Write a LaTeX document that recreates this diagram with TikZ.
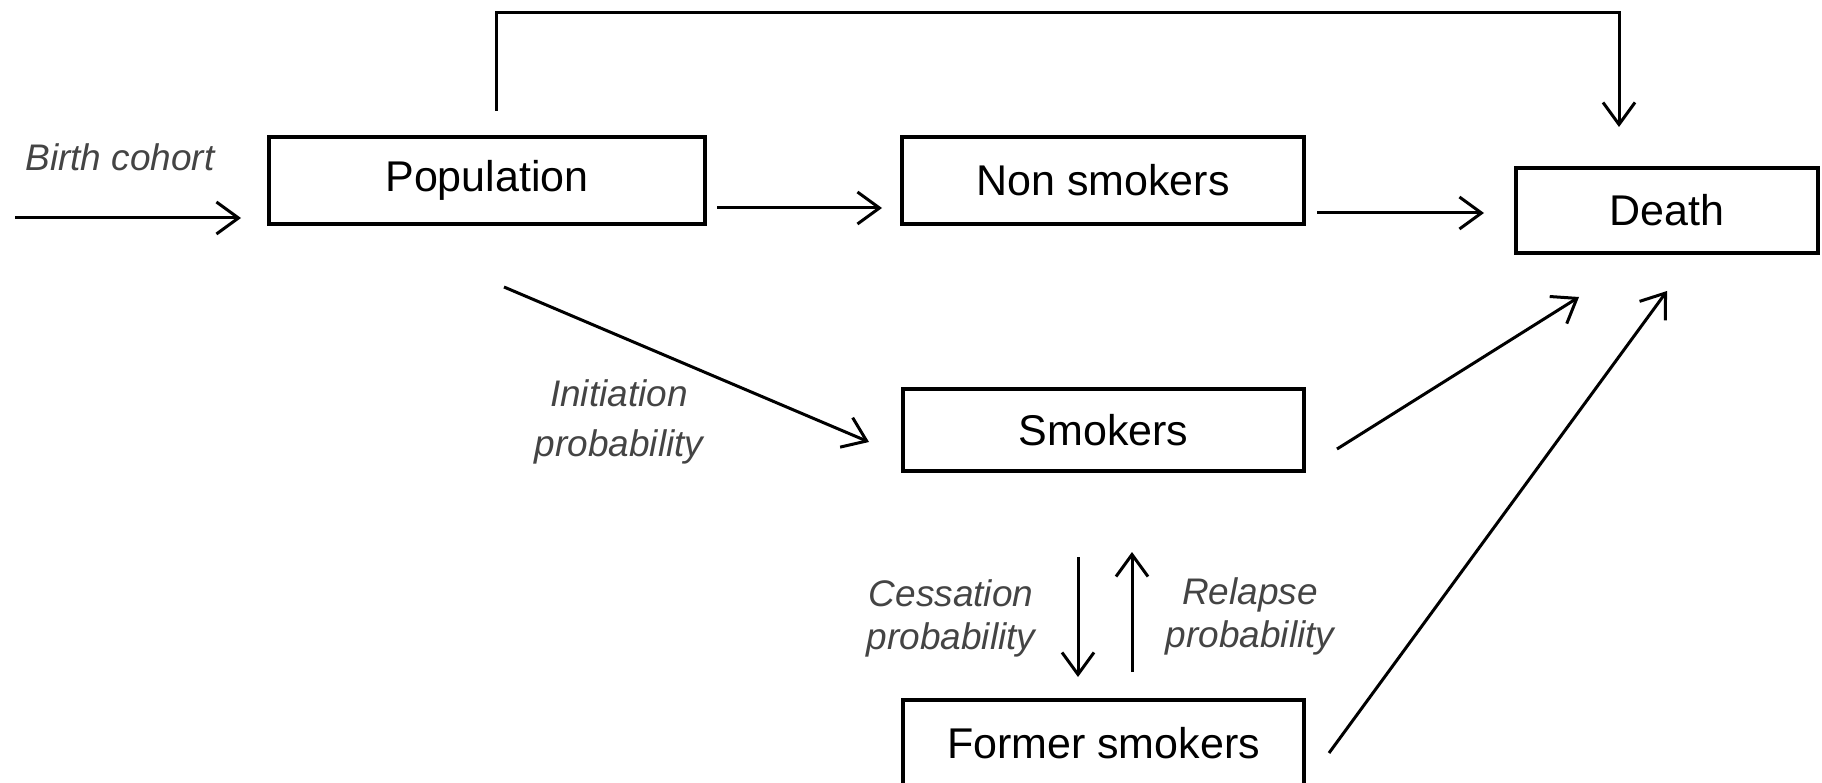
\documentclass[tikz,border=0pt]{standalone}
\usepackage{fontspec}
\setmainfont{Liberation Sans}
\usetikzlibrary{arrows.meta}
\definecolor{lbl}{HTML}{444444}
\tikzset{
  box/.style={draw=black, line width=4pt, inner sep=0pt, outer sep=0pt, font=\fontsize{43}{50}\selectfont, text=black},
  arr/.style={line width=3pt, -{Straight Barb[length=22pt,width=32pt,line width=3pt]}},
  lab/.style={font=\fontsize{37}{45}\selectfont\itshape, text=lbl, align=center, inner sep=0pt},
}
\begin{document}
\begin{tikzpicture}[x=1pt,y=-1pt]
\useasboundingbox (0,0) rectangle (1822,783);
\node[box, minimum width=436pt, minimum height=87pt] (pop) at (487,180.5) {Population};
\node[box, minimum width=402pt, minimum height=87pt] (non) at (1103,180.5) {Non smokers};
\node[box, minimum width=302pt, minimum height=85pt] (death) at (1667,210.5) {Death};
\node[box, minimum width=401pt, minimum height=82pt] (smk) at (1103.5,430) {Smokers};
\node[box, minimum width=401pt, minimum height=86pt] (fs) at (1103.5,743) {Former smokers};

\node[lab] (bclab) at (120,157) {Birth cohort};
\node[lab, font=\fontsize{37}{50}\selectfont\itshape] (inlab) at (619,422) {Initiation\\probability};
\node[lab, font=\fontsize{37}{43}\selectfont\itshape] (celab) at (951,618) {Cessation\\probability};
\node[lab, font=\fontsize{37}{43}\selectfont\itshape] (relab) at (1250,616) {Relapse\\probability};

\coordinate (bc) at (15,218);
\coordinate (topy) at (0,13);
\coordinate (popup) at ([shift={(9,-26)}]pop.north);
\coordinate (deathin) at ([shift={(-48,-41)}]death.north);

\draw[arr] (bc) -- ([shift={(-28,37.5)}]pop.west);
\draw[arr] ([shift={(12,27.5)}]pop.east) -- ([shift={(-20,27.5)}]non.west);
\draw[arr] ([shift={(13,32.5)}]non.east) -- ([shift={(-32,2.5)}]death.west);
\draw[arr] (popup) -- (popup |- topy) -| (deathin);
\draw[arr] ([shift={(17,63)}]pop.south) -- ([shift={(-34,12)}]smk.west);
\draw[arr] ([shift={(33,19)}]smk.east) -- ([shift={(-88,44)}]death.south);
\draw[arr] ([shift={(25,10)}]fs.east) -- ([shift={(0,38)}]death.south);
\draw[arr] ([shift={(-25.5,86)}]smk.south) -- ([shift={(-25.5,-23)}]fs.north);
\draw[arr] ([shift={(28.5,-28)}]fs.north) -- ([shift={(28.5,81)}]smk.south);
\end{tikzpicture}
\end{document}
